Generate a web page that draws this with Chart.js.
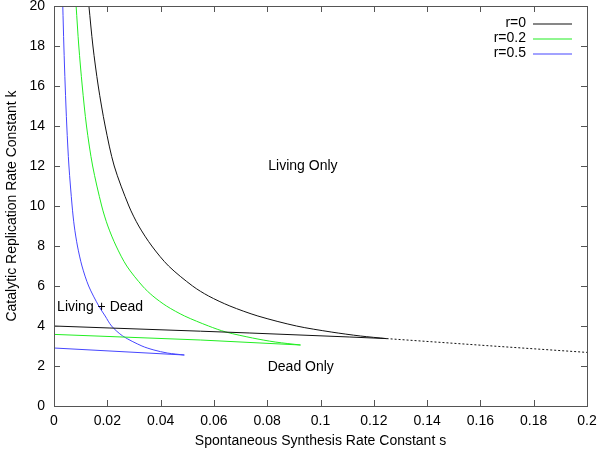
<!DOCTYPE html>
<html>
<head>
<meta charset="utf-8">
<script src="https://cdn.jsdelivr.net/npm/chart.js@4/dist/chart.umd.min.js"></script>
<style>
  body { margin: 0; background: #fff; }
  #wrap { width: 600px; height: 456px; }
</style>
</head>
<body>
<div id="wrap"><canvas id="myChart" width="600" height="456"></canvas></div>
<script>
// axis ticks
var xTicks = [0, 0.02, 0.04, 0.06, 0.08, 0.1, 0.12, 0.14, 0.16, 0.18, 0.2];
var yTicks = [0, 2, 4, 6, 8, 10, 12, 14, 16, 18, 20];

var seriesNames = ["r=0", "r=0.2", "r=0.5"];
var seriesColors = ["#111111", "#22ee22", "#4646ff"];

// r=0 : upper boundary (living) and lower boundary (dead)
var sUpper0 = [0.0131, 0.0146, 0.0166, 0.0192, 0.0226, 0.0281, 0.0318, 0.0367, 0.043, 0.052, 0.058, 0.066, 0.0765, 0.091, 0.104, 0.115, 0.1248];
var kUpper0 = [20, 18, 16, 14, 12, 10, 9, 8, 7, 6, 5.5, 5, 4.5, 4, 3.7, 3.5, 3.37];
var sLower0 = [0, 0.021, 0.055, 0.0735, 0.111, 0.1248];
var kLower0 = [4.0, 3.9, 3.74, 3.65, 3.45, 3.37];
// dotted continuation of r=0
var sDotted0 = [0.1248, 0.1623, 0.2];
var kDotted0 = [3.37, 3.02, 2.68];

// r=0.2
var sUpper1 = [0.0083, 0.0093, 0.0106, 0.0122, 0.0145, 0.0179, 0.0202, 0.0233, 0.0273, 0.0332, 0.0371, 0.0422, 0.049, 0.058, 0.0645, 0.0745, 0.083, 0.0925];
var kUpper1 = [20, 18, 16, 14, 12, 10, 9, 8, 7, 6, 5.5, 5, 4.5, 4, 3.7, 3.4, 3.2, 3.05];
var sLower1 = [0, 0.055, 0.0925];
var kLower1 = [3.58, 3.3, 3.05];

// r=0.5
var sUpper2 = [0.0033, 0.0037, 0.0042, 0.0048, 0.0056, 0.0068, 0.0076, 0.0088, 0.0105, 0.013, 0.0168, 0.0192, 0.0216, 0.0258, 0.033, 0.0375, 0.0425, 0.0489];
var kUpper2 = [20, 18, 16, 14, 12, 10, 9, 8, 7, 6, 5, 4.5, 4, 3.5, 3.0, 2.8, 2.65, 2.55];
var sLower2 = [0, 0.0489];
var kLower2 = [2.9, 2.55];

// region labels [text, s, k]
var regionLabels = [
  ["Living Only", 0.0934, 12.0],
  ["Living + Dead", 0.0173, 4.93],
  ["Dead Only", 0.0926, 1.95]
];

var xTitle = "Spontaneous Synthesis Rate Constant s";
var yTitle = "Catalytic Replication Rate Constant k";

function pts(xs, ys) {
  return xs.map(function (x, i) { return { x: x, y: ys[i] }; });
}

function curve(xs, ys, color, smooth, dash) {
  return {
    data: pts(xs, ys),
    showLine: true,
    borderColor: color,
    borderWidth: 1,
    pointRadius: 0,
    fill: false,
    borderDash: dash || [],
    tension: smooth ? 0.3 : 0,
  };
}

var FONT = "'Liberation Sans', Arial, sans-serif";

// inward ticks, full frame, legend and region labels
var decorations = {
  id: "decorations",
  afterDatasetsDraw: function (chart) {
    var ctx = chart.ctx;
    var a = chart.chartArea;
    var xs = chart.scales.x, ys = chart.scales.y;
    ctx.save();
    ctx.strokeStyle = "#555";
    ctx.lineWidth = 1;
    ctx.beginPath();
    xTicks.forEach(function (v, i) {
      if (i === 0 || i === xTicks.length - 1) return;
      var px = Math.round(xs.getPixelForValue(v)) + 0.5;
      ctx.moveTo(px, a.bottom); ctx.lineTo(px, a.bottom - 6);
      ctx.moveTo(px, a.top); ctx.lineTo(px, a.top + 6);
    });
    yTicks.forEach(function (v, i) {
      if (i === 0 || i === yTicks.length - 1) return;
      var py = Math.round(ys.getPixelForValue(v)) + 0.5;
      ctx.moveTo(a.left, py); ctx.lineTo(a.left + 6, py);
      ctx.moveTo(a.right, py); ctx.lineTo(a.right - 6, py);
    });
    ctx.stroke();
    ctx.strokeRect(Math.round(a.left) + 0.5, Math.round(a.top) + 0.5,
      Math.round(a.right - a.left), Math.round(a.bottom - a.top));

    ctx.font = "14px " + FONT;
    ctx.fillStyle = "#000";
    ctx.textBaseline = "middle";
    ctx.textAlign = "center";
    regionLabels.forEach(function (l) {
      ctx.fillText(l[0], xs.getPixelForValue(l[1]), ys.getPixelForValue(l[2]));
    });

    // legend in the top right corner, gnuplot style
    ctx.textAlign = "right";
    seriesNames.forEach(function (name, i) {
      var y = 23 + i * 15;
      ctx.fillStyle = "#000";
      ctx.fillText(name, 526, y);
      ctx.strokeStyle = seriesColors[i];
      ctx.lineWidth = 1.2;
      ctx.beginPath();
      ctx.moveTo(533, y + 1); ctx.lineTo(572, y + 1);
      ctx.stroke();
    });
    ctx.restore();
  }
};

document.addEventListener("DOMContentLoaded", function () {
  var ctx = document.getElementById("myChart").getContext("2d");

  var myChart = new Chart(ctx, {
    type: "scatter",
    data: {
      datasets: [
        curve(sUpper0, kUpper0, seriesColors[0], true),
        curve(sLower0, kLower0, seriesColors[0], false),
        curve(sDotted0, kDotted0, seriesColors[0], false, [2, 2]),
        curve(sUpper1, kUpper1, seriesColors[1], true),
        curve(sLower1, kLower1, seriesColors[1], false),
        curve(sUpper2, kUpper2, seriesColors[2], true),
        curve(sLower2, kLower2, seriesColors[2], false),
      ],
    },
    options: {
      responsive: false,
      animation: false,
      devicePixelRatio: 1,
      layout: { padding: { top: 6, right: 13, left: 0, bottom: 0 } },
      plugins: { legend: { display: false }, tooltip: { enabled: false } },
      scales: {
        x: {
          type: "linear", min: 0, max: 0.2,
          afterFit: function (s) { s.height = 50; s.paddingLeft = 0; s.paddingRight = 0; },
          afterBuildTicks: function (s) { s.ticks = xTicks.map(function (v) { return { value: v }; }); },
          ticks: {
            padding: 7, color: "#000", font: { family: FONT, size: 14 },
            callback: function (v) { return String(Number(v.toFixed(2))); },
          },
          grid: { display: false, drawTicks: false },
          border: { display: false },
          title: { display: true, text: xTitle, color: "#000", font: { family: FONT, size: 14 }, padding: { top: 0, bottom: 6.6 } },
        },
        y: {
          type: "linear", min: 0, max: 20,
          afterFit: function (s) { s.width = 54; s.paddingTop = 0; s.paddingBottom = 0; },
          afterBuildTicks: function (s) { s.ticks = yTicks.map(function (v) { return { value: v }; }); },
          ticks: { padding: 9, color: "#000", font: { family: FONT, size: 14 } },
          grid: { display: false, drawTicks: false },
          border: { display: false },
          title: { display: true, text: yTitle, color: "#000", font: { family: FONT, size: 14 }, padding: { top: 3.6, bottom: 0 } },
        },
      },
    },
    plugins: [decorations],
  });
});
</script>
</body>
</html>
